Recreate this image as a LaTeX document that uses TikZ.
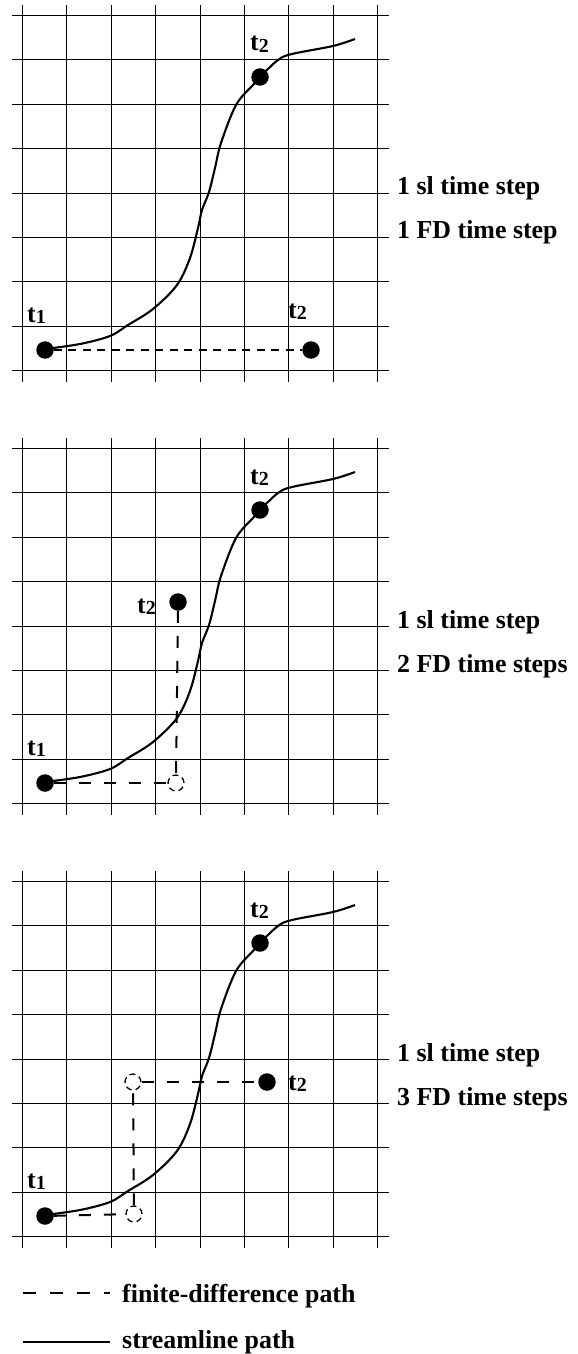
\documentclass[tikz,border=0pt]{standalone}
\usepackage{fontspec}
\setmainfont{Liberation Serif}
\newcommand\tsub[1]{t\raisebox{-1.5pt}{\fontsize{20}{21}\selectfont #1}}
\tikzset{
  gridline/.style={line width=1.4bp},
  stream/.style={line width=2.1bp},
  fd/.style={line width=2bp, dash pattern=on 12bp off 13bp},
  fdshort/.style={line width=2bp, dash pattern=on 8bp off 6.5bp},
  legdash/.style={line width=2bp, dash pattern=on 13bp off 14bp},
  dot/.style={circle, fill=black, minimum size=17.5bp, inner sep=0pt},
  ghost/.style={circle, draw, dash pattern=on 6bp off 4bp, line width=1.3bp, minimum size=16bp, inner sep=0pt},
  lbl/.style={font=\fontsize{26}{30}\selectfont\bfseries, inner sep=0pt, anchor=base west},
}
\begin{document}
\begin{tikzpicture}[x={(1bp,0)}, y={(0,-1bp)}]
\useasboundingbox (0,0) rectangle (578,1354);
\foreach \p/\oy/\fdt in {1/0/1 FD time step, 2/433/2 FD time steps, 3/866/3 FD time steps}{
  \begin{scope}[shift={(0,\oy)}]
    \foreach \i in {0,...,8}{
      \pgfmathsetmacro{\gx}{round(23+44.4*\i)-0.5}
      \pgfmathsetmacro{\gy}{round(16+44.4*\i)-0.5}
      \draw[gridline] (\gx,5) -- (\gx,382);
      \draw[gridline] (12,\gy) -- (389,\gy);
    }
    \node[dot] (a\p) at (45,350) {};
    \node[dot] (b\p) at (260,77) {};
    \draw[stream] plot[smooth, tension=0.55] coordinates {
      (45,349) (80,344) (110,336) (128,325) (153,309) (177,285) (190,258)
      (198,228) (202,210) (209,192) (215,168) (221,143) (236,105) (253,85)
      (260,77) (278,60) (292,54) (333,46) (355,39)};
    \node[lbl] (ta\p) at (27,322) {\tsub{1}};
    \node[lbl] (tb\p) at (250,51) {\tsub{2}};
    \node[lbl] (sl\p) at (397,195) {1 sl time step};
    \node[lbl] (fdl\p) at (397,239) {\fdt};
  \end{scope}
}
% panel 1
\node[dot] (c1) at (311,350) {};
\node[lbl] (tc1) at (288,318) {\tsub{2}};
\draw[fdshort] (a1) -- (c1);
% panel 2
\node[dot] (c2) at (178,602) {};
\node[lbl] (tc2) at (137,613) {\tsub{2}};
\node[ghost] (g2) at (176,783) {};
\draw[fd] (a2) -- (g2);
\draw[fd] (c2) -- (g2);
% panel 3
\node[dot] (c3) at (267,1082) {};
\node[lbl] (tc3) at (288,1090) {\tsub{2}};
\node[ghost] (g3a) at (134,1214) {};
\node[ghost] (g3b) at (133,1082) {};
\draw[fd] (a3) -- (g3a);
\draw[fd] (g3a) -- (g3b);
\draw[fd] (g3b) -- (c3);
% legend
\coordinate (l1a) at (23,1293);
\coordinate (l1b) at (110,1293);
\coordinate (l2a) at (23,1342);
\coordinate (l2b) at (110,1342);
\draw[legdash] (l1a) -- (l1b);
\draw[stream] (l2a) -- (l2b);
\node[lbl] (leg1) at (122,1302) {finite-difference path};
\node[lbl] (leg2) at (122,1348) {streamline path};
\end{tikzpicture}
\end{document}
